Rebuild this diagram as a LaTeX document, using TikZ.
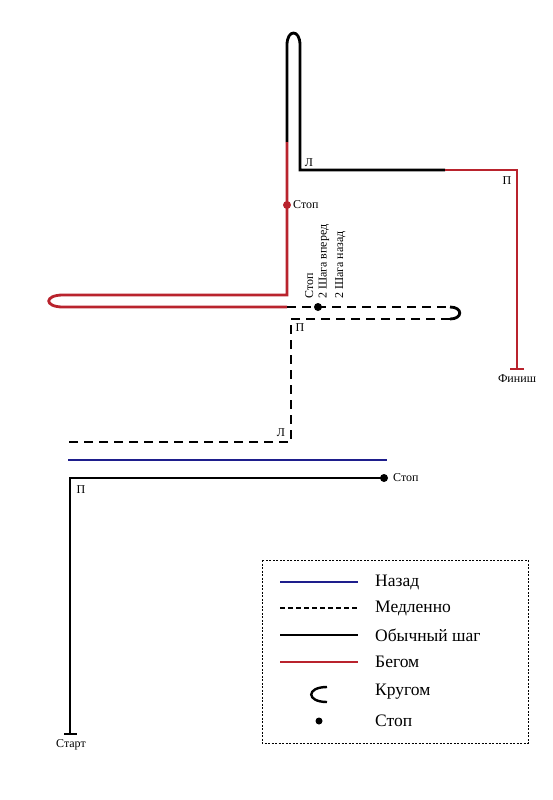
\documentclass[tikz,border=0pt]{standalone}
\usepackage{fontspec}
\setmainfont{Liberation Serif}
\usetikzlibrary{arrows.meta,positioning}
\definecolor{RunRed}{RGB}{185,35,45}
\definecolor{BackBlue}{RGB}{30,30,140}
\begin{document}
\begin{tikzpicture}[x=1pt,y=-1pt,
  walk/.style={line width=2.8pt,black},
  run/.style={line width=2.8pt,RunRed},
  slow/.style={line width=2.8pt,black,dash pattern=on 9pt off 6pt},
  back/.style={line width=2.8pt,BackBlue},
  lbl/.style={font=\fontsize{12}{13.5}\selectfont,inner sep=0pt},
  legtext/.style={font=\fontsize{17.5}{20}\selectfont,anchor=west,inner sep=0pt},
  stopdot/.style={circle,fill,inner sep=0pt,minimum size=8pt}]
  \useasboundingbox (0,0) rectangle (553,800);
  % upper part of the route
  \coordinate (rs) at (287,142);
  \coordinate (tl) at (287,45);
  \coordinate (tr) at (300,45);
  \coordinate (cL) at (300,170);
  \coordinate (ws) at (445,170);
  \coordinate (cP) at (517,170);
  \coordinate (fin) at (517,370);
  \coordinate (lp) at (287,295);
  \coordinate (l1) at (63,295);
  \coordinate (l2) at (63,307);
  \coordinate (d0) at (287,307);
  \coordinate (d1) at (450,307);
  \coordinate (d2) at (450,319);
  \coordinate (d3) at (291,319);
  \coordinate (d4) at (291,442);
  \coordinate (d5) at (68,442);
  % lower part
  \coordinate (b1) at (68,460);
  \coordinate (b2) at (387,460);
  \coordinate (s1) at (384,478);
  \coordinate (s0) at (70,478);
  \coordinate (st) at (70,735);

  \draw[walk] (rs) -- (tl) .. controls +(0,-16) and +(0,-16) .. (tr) -- (cL) -- (ws);
  \draw[run,-{Bar[width=14pt,line width=2pt]}] (ws) -- (cP) -- (fin);
  \draw[run] (rs) -- (lp) -- (l1) .. controls +(-19,0) and +(-19,0) .. (l2) -- (d0);
  \draw[slow] (d0) -- (d1);
  \draw[line width=2.8pt] (d1) .. controls +(13,0) and +(13,0) .. (d2);
  \draw[slow] (d2) -- (d3) -- (d4) -- (d5);
  \draw[back] (b1) -- (b2);
  \draw[walk,-{Bar[width=13pt,line width=2pt]}] (s1) -- (s0) -- (st);

  \node[stopdot,RunRed] (dot1) at (287,205) {};
  \node[stopdot] (dot2) at (318,307) {};
  \node[stopdot] (dot3) at (s1) {};

  \node[lbl,anchor=west] (stop1) at (293,205) {Стоп};
  \node[lbl] (turnL1) at (309,163) {Л};
  \node[lbl] (turnP1) at (507,181) {П};
  \node[lbl] (finish) at (517,379) {Финиш};
  \node[lbl,rotate=90,anchor=north west,align=left] (stop2) at (305,299)
    {Стоп\\2 Шага вперед\\[3pt]2 Шага назад};
  \node[lbl] (turnP2) at (300,328) {П};
  \node[lbl] (turnL2) at (281,433) {Л};
  \node[lbl,anchor=west] (stop3) at (393,478) {Стоп};
  \node[lbl] (turnP3) at (81,490) {П};
  \node[lbl] (start) at (71,745) {Старт};

  % legend
  \draw[line width=0.6pt,dash pattern=on 2pt off 1.5pt] (262,560) rectangle (528,743);
  \foreach \y/\txt in {582/Назад,608/Медленно,635/Обычный шаг,662/Бегом,692/Кругом,721/Стоп}{
    \node[legtext] (leg\y) at (375,\y) {\txt};}
  \draw[back,line width=2.2pt] (280,582) -- (358,582);
  \draw[line width=1.6pt,dash pattern=on 5pt off 3pt] (280,608) -- (358,608);
  \draw[walk,line width=2.2pt] (280,635) -- (358,635);
  \draw[run,line width=2.2pt] (280,662) -- (358,662);
  \draw[line width=2.4pt] (327,687) .. controls +(-21,0) and +(-21,0) .. (327,702);
  \node[stopdot,minimum size=7pt] (legdot) at (319,721) {};
\end{tikzpicture}
\end{document}
